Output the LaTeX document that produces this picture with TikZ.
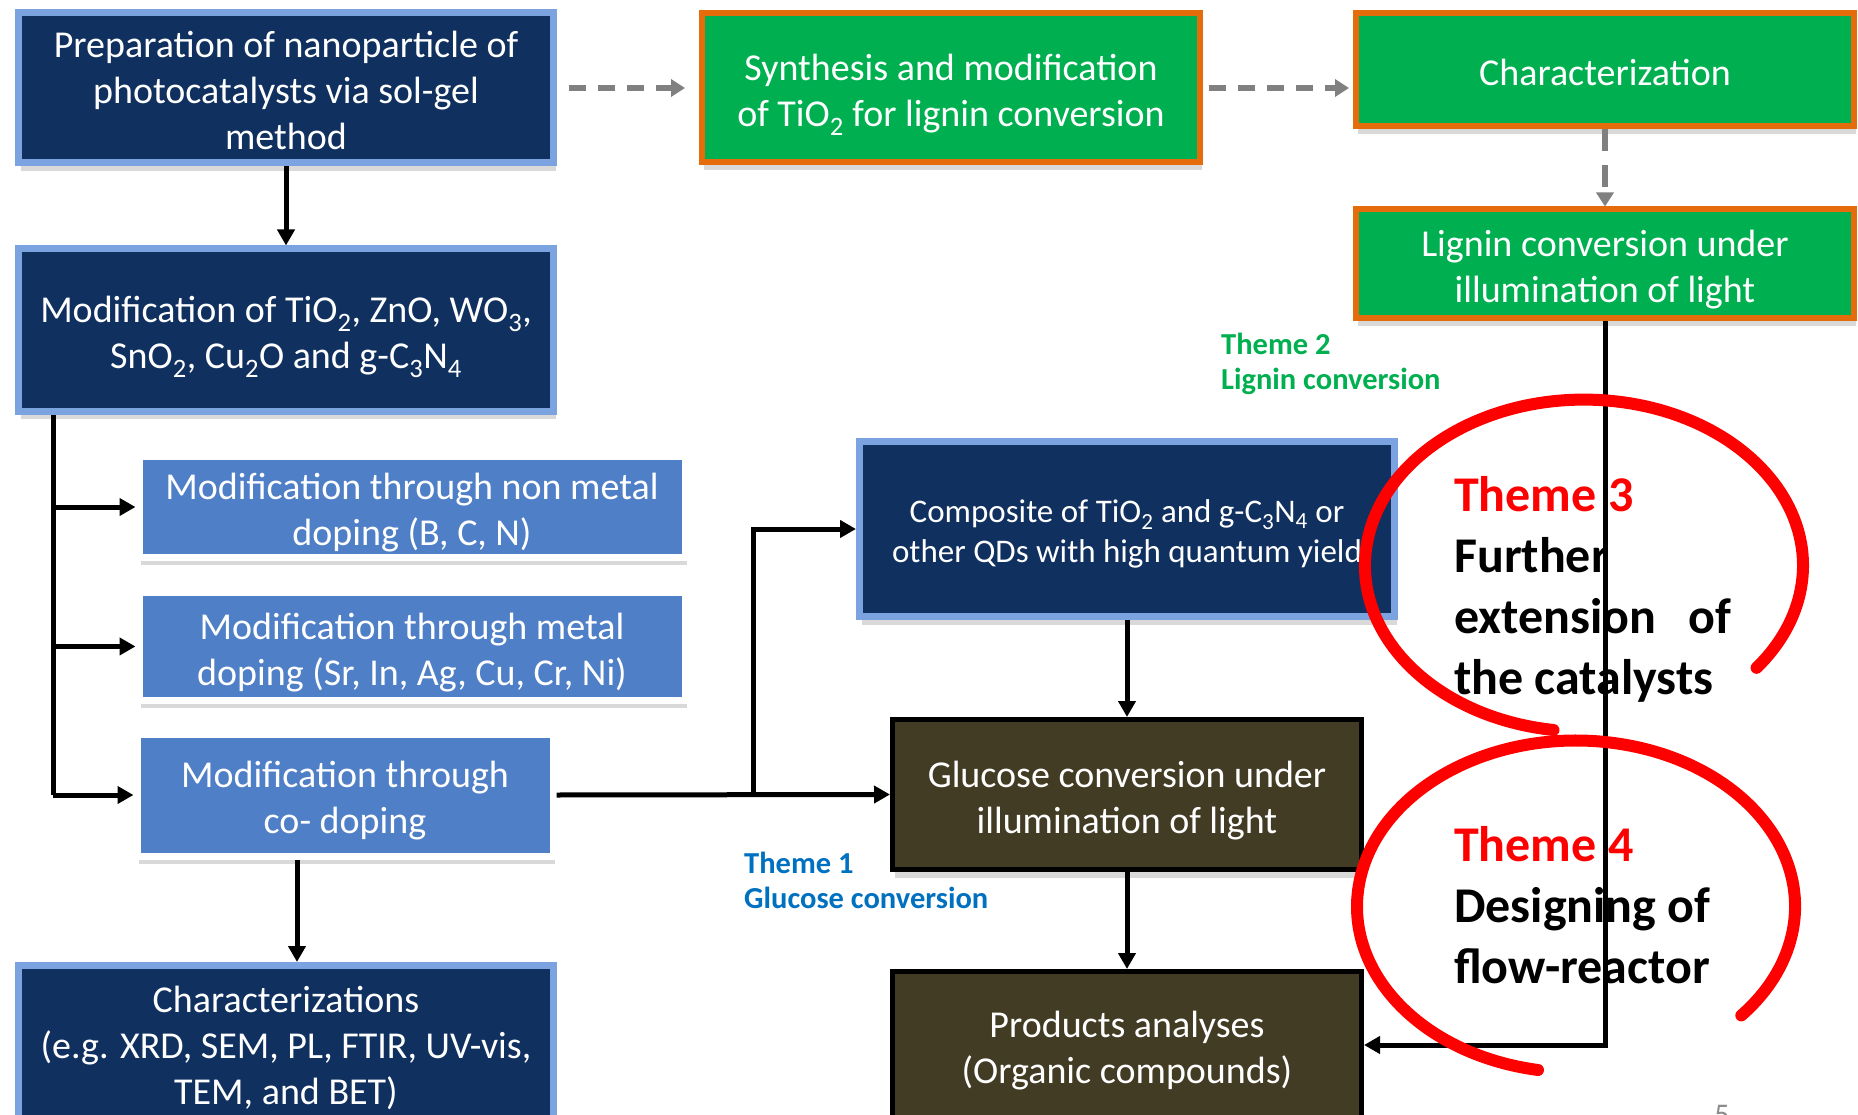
\documentclass[tikz,border=0pt]{standalone}
\usepackage{fontspec}
\setmainfont{Carlito}
\usetikzlibrary{positioning,arrows.meta,shadows,calc}

\definecolor{boxnavy}{HTML}{10305F}
\definecolor{boxrim}{HTML}{7BA3DF}
\definecolor{boxblue}{HTML}{4F7FC6}
\definecolor{boxgreen}{HTML}{00B050}
\definecolor{boxorange}{HTML}{E46C0A}
\definecolor{boxolive}{HTML}{433C25}
\definecolor{themegreen}{HTML}{00B050}
\definecolor{themeblue}{HTML}{0070C0}
\definecolor{themered}{HTML}{FF0000}
\newcommand{\ssub}[1]{\textsubscript{#1}}
% struts so that the lines sit like in the slide
\newcommand{\bstrut}{\rule{0pt}{1.05em}}
\newcommand{\estrut}{\rule[-0.22em]{0pt}{0pt}}

\begin{document}
\begin{tikzpicture}[x=1pt,y=-1pt,
boxshadow/.style={drop shadow={shadow xshift=2pt, shadow yshift=-8pt, fill=black, opacity=0.15}},
boxtext/.style={text=white, align=center, font=\fontsize{38}{46}\selectfont},
darkbox/.style={rectangle, draw=boxrim, line width=7pt, fill=boxnavy, boxtext, boxshadow},
bluebox/.style={rectangle, draw=white, line width=7pt, fill=boxblue, boxtext, boxshadow},
greenbox/.style={rectangle, draw=boxorange, line width=6pt, fill=boxgreen, boxtext, boxshadow},
olivebox/.style={rectangle, draw=black, line width=5pt, fill=boxolive, boxtext, boxshadow},
flow/.style={line width=5pt, -{Triangle[length=16pt,width=17pt]}},
dashflow/.style={draw=black!50, line width=6pt, dash pattern=on 17pt off 12pt, -{Triangle[length=14pt,width=17pt]}},
themelabel/.style={inner sep=0pt, anchor=west, align=left, font=\fontsize{30.5}{35}\selectfont\bfseries},
bigtheme/.style={inner sep=0pt, anchor=west, align=left, font=\fontsize{50}{61}\selectfont\bfseries}
]
\useasboundingbox (0,0) rectangle (1858,1115);
\fill[white] (0,0) rectangle (1858,1115);
\clip (0,0) rectangle (1858,1115);

% top row
\node[darkbox, minimum width=535pt, minimum height=150pt] (prep) at (286,88) {\bstrut Preparation of nanoparticle of\\ photocatalysts via sol-gel\\ method\estrut};
\node[greenbox, minimum width=498pt, minimum height=149pt] (synth) [right=142pt of prep] {\bstrut Synthesis and modification\\ of TiO\ssub{2} for lignin conversion\estrut};
\node[greenbox, minimum width=498pt, minimum height=113pt] (charac) [right=150pt of synth.north east, anchor=north west] {\bstrut Characterization\estrut};
\node[greenbox, minimum width=498pt, minimum height=109pt] (lignin) [below=77pt of charac] {\bstrut Lignin conversion under\\ illumination of light\estrut};

% left column
\node[darkbox, minimum width=535pt, minimum height=162pt] (modif) [below=79pt of prep] {\bstrut Modification of TiO\ssub{2}, ZnO, WO\ssub{3},\\ SnO\ssub{2}, Cu\ssub{2}O and g-C\ssub{3}N\ssub{4}\estrut};
\node[bluebox, minimum width=546pt, minimum height=100pt] (nonmetal) at (412,507) {\bstrut Modification through non metal\\ doping (B, C, N)\estrut};
\node[bluebox, minimum width=546pt, minimum height=108pt] (metal) [below=28pt of nonmetal] {\bstrut Modification through metal\\ doping (Sr, In, Ag, Cu, Cr, Ni)\estrut};
\node[bluebox, minimum width=416pt, minimum height=122pt] (codop) at (345,795) {\bstrut Modification through\\ co- doping\estrut};
\node[darkbox, minimum width=535pt, minimum height=155pt] (charz) at (286,1043) {\bstrut Characterizations\\ (e.g. XRD, SEM, PL, FTIR, UV-vis,\\ TEM, and BET)\estrut};

% middle column
\node[darkbox, minimum width=535pt, minimum height=175pt, font=\fontsize{33}{40}\selectfont] (composite) at (1127,529) {\bstrut Composite of TiO\ssub{2} and g-C\ssub{3}N\ssub{4} or\\ other QDs with high quantum yield\estrut};
\node[olivebox, minimum width=469pt, minimum height=150pt] (glucose) [below=97pt of composite] {\bstrut Glucose conversion under\\ illumination of light\estrut};
\node[olivebox, minimum width=469pt, minimum height=147pt] (products) [below=97pt of glucose] {\bstrut Products analyses\\ (Organic compounds)\estrut};

% theme labels
\node[themelabel, text=themegreen] (theme2) at (1221,364) {Theme 2\\ Lignin conversion};
\node[themelabel, text=themeblue] (theme1) at (744,880) {Theme 1\\ Glucose conversion};
\node[bigtheme] (theme3) at (1454,589) {\textcolor{themered}{Theme 3}\\ Further\\ extension\hspace{21pt} of\\ the catalysts};
\node[bigtheme] (theme4) at (1454,905) {\textcolor{themered}{Theme 4}\\ Designing of\\ flow-reactor};
\node[inner sep=0pt, anchor=north, text=black!45, font=\fontsize{30}{36}\selectfont] (pagenum) at (1722,1105) {5};

% dashed links
\draw[dashflow, shorten <=12pt, shorten >=14pt] (prep.east |- synth.west) -- (synth.west);
\draw[dashflow, shorten <=6pt, shorten >=4pt] (synth.east) -- (synth.east -| charac.west);
\draw[dashflow, dash pattern=on 22pt off 14pt] (charac.south) -- (lignin.north);

% solid links
\draw[flow] (prep) -- (modif);
\coordinate (trunk) at ([xshift=38pt]modif.south west);
\draw[line width=5pt] (trunk) -- (trunk |- codop.west);
\draw[flow] (trunk |- nonmetal.west) -- (nonmetal.west);
\draw[flow] (trunk |- metal.west) -- (metal.west);
\draw[flow] (trunk |- codop.west) -- (codop.west);
\draw[flow] ($(codop.south -| charz.north)+(11,0)$) -- ($(charz.north)+(11,0)$);
\draw[flow] (codop.east) -- (glucose.west);
\draw[flow] ($(codop.east)!0.59!(glucose.west)$) |- (composite.west);
\draw[flow] (composite) -- (glucose);
\draw[flow] (glucose) -- (products);
\draw[flow] (lignin.south) |- (products.east);

% hand drawn circles
\draw[themered, line width=12pt, line cap=round] (1553.5,730) arc[start angle=262, end angle=-38, x radius=219pt, y radius=166pt];
\draw[themered, line width=12pt, line cap=round] (1538,1070) arc[start angle=260, end angle=-41, x radius=219pt, y radius=166pt];
\end{tikzpicture}
\end{document}
